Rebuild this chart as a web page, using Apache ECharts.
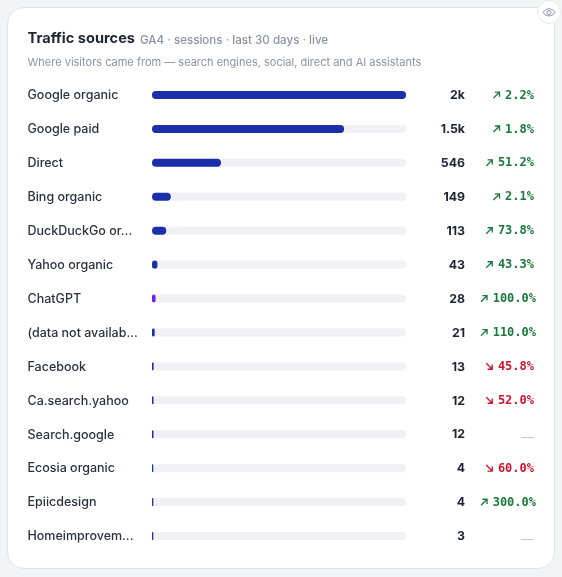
<!DOCTYPE html>
<html><head><meta charset="utf-8">
<style>html,body{margin:0;padding:0;background:#f3f4f6}#c{width:562px;height:577px}</style>
<script src="https://cdn.jsdelivr.net/npm/echarts@6/dist/echarts.min.js"></script>
</head><body><div id="c"></div>
<script>
const categories=['Google organic','Google paid','Direct','Bing organic','DuckDuckGo or...','Yahoo organic','ChatGPT','(data not availab...','Facebook','Ca.search.yahoo','Search.google','Ecosia organic','Epiicdesign','Homeimprovem...'];
const sessions=[2010,1520,546,149,113,43,28,21,13,12,12,4,4,3];
const sessionLabels=['2k','1.5k','546','149','113','43','28','21','13','12','12','4','4','3'];
const changes=['2.2','1.8','51.2','2.1','73.8','43.3','100.0','110.0','-45.8','-52.0',null,'-60.0','300.0',null];
const barColors=['#1a2fa8','#1a2fa8','#1a2fa8','#1a2fa8','#1a2fa8','#1a2fa8','#6f1de8','#1a2fa8','#1a2fa8','#1a2fa8','#1a2fa8','#1a2fa8','#1a2fa8','#1a2fa8'];
const maxValue=2010;
const trackValues=sessions.map(()=>maxValue);
const F='Inter, sans-serif';
const GREEN='#1a7a3c',RED='#d2142c';
const eyeStyle={fill:'none',stroke:'#8b93a3',lineWidth:1};
const icon=(d,c)=>'data:image/svg+xml;charset=utf-8,'+encodeURIComponent(`<svg xmlns="http://www.w3.org/2000/svg" width="40" height="40" viewBox="0 0 10 10"><path d="${d}" fill="none" stroke="${c}" stroke-width="1.5"/></svg>`);
const upIcon=icon('M1.5 8.5 L8 2 M3 1.8 H8.2 V7',GREEN);
const downIcon=icon('M1.5 1.5 L8 8 M3 8.2 H8.2 V3',RED);
const chart=echarts.init(document.getElementById('c'),null,{renderer:'canvas'});
const pctStyle=(c,r)=>({fontFamily:'DejaVu Sans Mono',fontWeight:700,fontSize:12,color:c,padding:[1,r,0,0]});
chart.setOption({
  animation:false,
  backgroundColor:'#f3f4f6',
  graphic:[
    {type:'rect',z:-10,shape:{x:7.5,y:7.5,width:547,height:561,r:16},style:{fill:'#fff',stroke:'#dfe2e8',lineWidth:1}},
    {type:'circle',z:-9,shape:{cx:549,cy:12,r:11.5},style:{fill:'#fff',stroke:'#e6e8ec',lineWidth:1}},
    {type:'bezierCurve',z:-8,shape:{x1:543,y1:12.5,cpx1:546,cpy1:7.5,cpx2:552,cpy2:7.5,x2:555,y2:12.5},style:eyeStyle},
    {type:'bezierCurve',z:-8,shape:{x1:543,y1:12.5,cpx1:546,cpy1:17,cpx2:552,cpy2:17,x2:555,y2:12.5},style:eyeStyle},
    {type:'circle',z:-8,shape:{cx:549,cy:12.5,r:2},style:eyeStyle},
    {type:'text',x:27.5,y:39,style:{text:'Traffic sources',font:'700 14.6px '+F,fill:'#1d2433',textVerticalAlign:'middle'}},
    {type:'text',x:140,y:40.5,style:{text:'GA4 · sessions · last 30 days · live',font:'500 11.6px '+F,fill:'#8a92a3',textVerticalAlign:'middle'}},
    {type:'text',x:27.5,y:62.5,style:{text:'Where visitors came from — search engines, social, direct and AI assistants',font:'400 11px '+F,fill:'#8a92a3',textVerticalAlign:'middle'}}
  ],
  grid:{left:152,width:254,top:78,height:475,containLabel:false},
  xAxis:{type:'value',min:0,max:maxValue,show:false},
  yAxis:[
    {type:'category',inverse:true,data:categories,axisLine:{show:false},axisTick:{show:false},
      axisLabel:{align:'left',margin:124.5,formatter:v=>`{a|${v}}`,rich:{a:{padding:[1,0,0,0],fontFamily:F,fontSize:12.5,fontWeight:500,color:'#2a3242'}}}},
    {type:'category',inverse:true,position:'right',offset:59,data:sessionLabels,axisLine:{show:false},axisTick:{show:false},
      axisLabel:{align:'right',margin:0,formatter:v=>`{a|${v}}`,rich:{a:{padding:[1,0,0,0],fontFamily:F,fontSize:12.3,fontWeight:700,color:'#1d2433'}}}},
    {type:'category',inverse:true,position:'right',offset:130,data:changes.map(c=>c===null?'—':c),axisLine:{show:false},axisTick:{show:false},
      axisLabel:{align:'right',margin:0,formatter:v=>{
        if(v==='—')return '{none|—}';
        const neg=v[0]==='-';
        const t=(neg?v.slice(1):v)+'%';
        const long=t.length>=6;
        return neg?`{da|}{gap|}{dn|${t}}`:`{ua|}{gap|}{${long?'upL':'up'}|${t}}`;
      },rich:{
        up:pctStyle(GREEN,2),
        upL:pctStyle(GREEN,0),
        dn:pctStyle(RED,2),
        gap:{width:4,height:1},
        ua:{width:9,height:9,backgroundColor:{image:upIcon}},
        da:{width:9,height:9,backgroundColor:{image:downIcon}},
        none:{fontFamily:F,fontSize:13,color:'#c6cad3',padding:[8,2,0,0]}
      }}}
  ],
  series:[
    {type:'bar',yAxisIndex:0,data:trackValues,barWidth:8,barGap:'-100%',silent:true,itemStyle:{color:'#f0f0f5',borderRadius:4}},
    {type:'bar',yAxisIndex:0,data:sessions.map((v,i)=>({value:v,itemStyle:{color:barColors[i]}})),barWidth:8,barGap:'-100%',barMinHeight:1.3,itemStyle:{borderRadius:4}}
  ]
});
</script></body></html>
